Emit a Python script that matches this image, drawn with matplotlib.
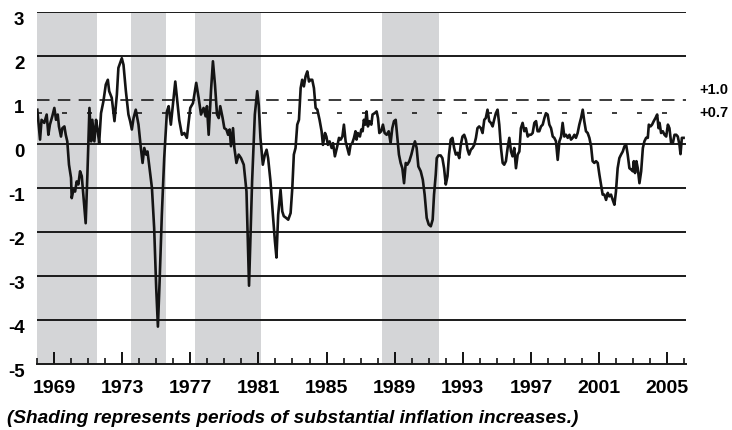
import matplotlib
matplotlib.use("Agg")
from matplotlib import pyplot as plt
from matplotlib import transforms

# readings taken off the chart (year, percentage points)
years = [
    1968.02, 1968.18, 1968.27, 1968.43, 1968.57, 1968.67, 1968.76, 1968.90, 1969.02, 1969.12,
    1969.22, 1969.29, 1969.41, 1969.49, 1969.61, 1969.69, 1969.78, 1969.88, 1970.00, 1970.04,
    1970.14, 1970.24, 1970.33, 1970.43, 1970.53, 1970.63, 1970.75, 1970.86, 1970.96, 1971.08,
    1971.18, 1971.25, 1971.37, 1971.47, 1971.57, 1971.65, 1971.76, 1971.90, 1972.04, 1972.16,
    1972.24, 1972.39, 1972.55, 1972.69, 1972.78, 1972.88, 1972.98, 1973.08, 1973.22, 1973.37,
    1973.47, 1973.57, 1973.67, 1973.80, 1973.96, 1974.08, 1974.20, 1974.30, 1974.41, 1974.49,
    1974.61, 1974.75, 1974.88, 1975.00, 1975.10, 1975.20, 1975.33, 1975.47, 1975.63, 1975.73,
    1975.86, 1975.98, 1976.12, 1976.22, 1976.35, 1976.51, 1976.65, 1976.80, 1976.90, 1977.00,
    1977.16, 1977.35, 1977.49, 1977.63, 1977.78, 1977.90, 1977.98, 1978.08, 1978.22, 1978.33,
    1978.45, 1978.57, 1978.67, 1978.76, 1978.90, 1979.00, 1979.12, 1979.22, 1979.31, 1979.39,
    1979.51, 1979.59, 1979.71, 1979.84, 1979.98, 1980.14, 1980.30, 1980.45, 1980.63, 1980.79,
    1980.93, 1981.02, 1981.12, 1981.26, 1981.38, 1981.48, 1981.57, 1981.71, 1981.85, 1981.97,
    1982.06, 1982.16, 1982.30, 1982.40, 1982.49, 1982.63, 1982.75, 1982.89, 1982.99, 1983.08,
    1983.18, 1983.28, 1983.38, 1983.48, 1983.57, 1983.67, 1983.77, 1983.87, 1983.97, 1984.06,
    1984.16, 1984.26, 1984.36, 1984.46, 1984.59, 1984.71, 1984.79, 1984.91, 1984.99, 1985.08,
    1985.18, 1985.30, 1985.38, 1985.49, 1985.63, 1985.73, 1985.83, 1985.93, 1986.02, 1986.12,
    1986.22, 1986.32, 1986.41, 1986.51, 1986.61, 1986.70, 1986.76, 1986.84, 1986.96, 1987.04,
    1987.12, 1987.19, 1987.27, 1987.35, 1987.43, 1987.51, 1987.63, 1987.70, 1987.82, 1987.94,
    1988.02, 1988.10, 1988.21, 1988.31, 1988.41, 1988.53, 1988.65, 1988.76, 1988.86, 1988.96,
    1989.06, 1989.16, 1989.25, 1989.35, 1989.45, 1989.55, 1989.65, 1989.74, 1989.86, 1989.98,
    1990.10, 1990.19, 1990.29, 1990.39, 1990.53, 1990.65, 1990.76, 1990.88, 1991.00, 1991.12,
    1991.23, 1991.31, 1991.41, 1991.47, 1991.57, 1991.70, 1991.80, 1991.90, 1992.00, 1992.10,
    1992.19, 1992.29, 1992.39, 1992.49, 1992.59, 1992.69, 1992.79, 1992.88, 1992.98, 1993.08,
    1993.18, 1993.28, 1993.37, 1993.47, 1993.57, 1993.67, 1993.77, 1993.86, 1993.96, 1994.06,
    1994.16, 1994.26, 1994.35, 1994.45, 1994.55, 1994.65, 1994.75, 1994.84, 1994.94, 1995.04,
    1995.14, 1995.24, 1995.34, 1995.43, 1995.53, 1995.63, 1995.73, 1995.83, 1995.92, 1996.02,
    1996.12, 1996.22, 1996.32, 1996.41, 1996.51, 1996.61, 1996.71, 1996.81, 1996.90, 1997.00,
    1997.10, 1997.20, 1997.30, 1997.39, 1997.49, 1997.59, 1997.69, 1997.79, 1997.88, 1997.98,
    1998.08, 1998.18, 1998.28, 1998.37, 1998.47, 1998.57, 1998.67, 1998.77, 1998.86, 1998.96,
    1999.06, 1999.16, 1999.26, 1999.35, 1999.45, 1999.55, 1999.64, 1999.74, 1999.84, 1999.94,
    2000.04, 2000.13, 2000.23, 2000.33, 2000.43, 2000.53, 2000.62, 2000.72, 2000.82, 2000.92,
    2001.02, 2001.11, 2001.21, 2001.31, 2001.41, 2001.51, 2001.60, 2001.70, 2001.80, 2001.90,
    2001.99, 2002.09, 2002.19, 2002.29, 2002.39, 2002.49, 2002.59, 2002.68, 2002.78, 2002.88,
    2002.98, 2003.04, 2003.11, 2003.19, 2003.27, 2003.37, 2003.47, 2003.57, 2003.66, 2003.76,
    2003.86, 2003.92, 2004.02, 2004.11, 2004.21, 2004.31, 2004.41, 2004.49, 2004.55, 2004.64,
    2004.74, 2004.84, 2004.94, 2005.04, 2005.13, 2005.23, 2005.33, 2005.43, 2005.53, 2005.62,
    2005.72, 2005.78, 2005.86, 2005.96,
]
values = [
    0.78, 0.10, 0.55, 0.48, 0.67, 0.21, 0.44, 0.63, 0.82, 0.55,
    0.67, 0.40, 0.17, 0.36, 0.40, 0.21, 0.06, -0.47, -0.77, -1.23,
    -1.04, -1.08, -0.85, -0.92, -0.62, -0.73, -1.30, -1.80, -0.70, 0.82,
    0.06, 0.55, 0.06, 0.55, 0.29, 0.02, 0.70, 0.97, 1.35, 1.46,
    1.20, 1.05, 0.52, 1.12, 1.73, 1.84, 1.95, 1.80, 1.20, 0.67,
    0.52, 0.33, 0.59, 0.78, 0.44, -0.02, -0.43, -0.09, -0.24, -0.17,
    -0.55, -1.00, -1.91, -3.27, -4.15, -3.12, -1.61, -0.32, 0.74, 0.86,
    0.44, 0.89, 1.42, 1.05, 0.55, 0.21, 0.25, 0.14, 0.48, 0.82,
    0.93, 1.39, 1.05, 0.67, 0.82, 0.63, 0.86, 0.21, 1.23, 1.88,
    1.35, 0.67, 0.59, 0.86, 0.59, 0.36, 0.33, 0.21, 0.33, -0.05,
    0.36, -0.09, -0.43, -0.24, -0.32, -0.47, -1.08, -3.22, -0.85, 0.67,
    1.20, 0.89, 0.14, -0.47, -0.24, -0.13, -0.32, -0.85, -1.61, -2.21,
    -2.58, -1.61, -1.04, -1.53, -1.64, -1.68, -1.72, -1.57, -1.00, -0.24,
    -0.09, 0.44, 0.55, 1.27, 1.46, 1.31, 1.54, 1.65, 1.42, 1.46,
    1.46, 1.27, 0.82, 0.78, 0.55, 0.29, -0.02, 0.25, 0.17, -0.02,
    0.06, -0.09, 0.02, -0.28, -0.05, 0.14, 0.10, 0.17, 0.44, 0.06,
    -0.09, -0.24, -0.02, 0.02, 0.14, 0.29, 0.10, 0.25, 0.17, 0.33,
    0.29, 0.55, 0.44, 0.74, 0.40, 0.52, 0.44, 0.67, 0.70, 0.74,
    0.59, 0.25, 0.29, 0.44, 0.25, 0.21, 0.29, 0.02, 0.36, 0.52,
    0.55, 0.14, -0.24, -0.43, -0.55, -0.89, -0.43, -0.47, -0.39, -0.24,
    -0.05, 0.06, -0.09, -0.51, -0.62, -0.81, -1.15, -1.68, -1.83, -1.87,
    -1.72, -1.15, -0.70, -0.32, -0.26, -0.26, -0.32, -0.55, -0.92, -0.73,
    -0.24, 0.10, 0.14, -0.09, -0.24, -0.20, -0.32, -0.02, 0.17, 0.21,
    0.10, -0.13, -0.24, -0.13, -0.09, -0.02, 0.14, 0.36, 0.40, 0.36,
    0.25, 0.55, 0.59, 0.78, 0.52, 0.48, 0.40, 0.55, 0.70, 0.78,
    0.44, -0.09, -0.43, -0.47, -0.39, -0.09, 0.14, -0.17, -0.28, -0.09,
    -0.55, -0.24, -0.17, 0.36, 0.48, 0.29, 0.36, 0.17, 0.21, 0.21,
    0.25, 0.48, 0.52, 0.29, 0.29, 0.40, 0.44, 0.59, 0.70, 0.67,
    0.44, 0.36, 0.17, 0.14, 0.06, -0.36, 0.06, 0.17, 0.48, 0.17,
    0.21, 0.14, 0.21, 0.10, 0.14, 0.21, 0.14, 0.25, 0.44, 0.59,
    0.78, 0.52, 0.29, 0.25, 0.14, -0.05, -0.39, -0.43, -0.39, -0.43,
    -0.70, -0.92, -1.15, -1.15, -1.27, -1.11, -1.19, -1.15, -1.27, -1.38,
    -1.08, -0.55, -0.32, -0.24, -0.17, -0.05, -0.02, -0.24, -0.55, -0.58,
    -0.62, -0.39, -0.66, -0.39, -0.55, -0.89, -0.62, -0.09, 0.06, 0.14,
    0.14, 0.44, 0.40, 0.44, 0.52, 0.59, 0.67, 0.36, 0.48, 0.25,
    0.29, 0.21, 0.17, 0.44, 0.36, 0.02, 0.02, 0.21, 0.21, 0.17,
    -0.02, -0.23, 0.14, 0.14,
]

# periods of substantial inflation increases
shade_start = [1968.0, 1973.53, 1977.3, 1988.24]
shade_end = [1971.55, 1975.57, 1981.16, 1991.63]

grid_levels = [3, 2, 0, -1, -2, -3, -4]
y_ticks = [3, 2, 1, 0, -1, -2, -3, -4, -5]
major_years = list(range(1969, 2006, 4))
minor_years = list(range(1968, 2007))

plt.rcParams['font.family'] = ['Liberation Sans', 'DejaVu Sans']

fig = plt.figure(figsize=(7.32, 4.31), dpi=100)
ax = fig.add_axes([0.0505, 0.1531, 0.8866, 0.8167])

for s, e in zip(shade_start, shade_end):
    ax.axvspan(s, e, color='#d4d5d7', lw=0, zorder=0)

for g in grid_levels:
    ax.axhline(g, color='#1a1a1a', lw=1.4, zorder=1)

ax.axhline(1.0, color='#1a1a1a', lw=1.2, dashes=(7.5, 5), zorder=1)
ax.axhline(0.7, color='#1a1a1a', lw=1.2, dashes=(3, 12), zorder=1)

ax.plot(years, values, color='#141414', lw=1.9, zorder=3)

ax.set_xlim(1968, 2006.1)
ax.set_ylim(-5, 3)

for side in ['top', 'left', 'right']:
    ax.spines[side].set_visible(False)
ax.spines['bottom'].set_linewidth(1.4)
ax.spines['bottom'].set_color('#1a1a1a')

ax.set_xticks(major_years)
ax.set_xticks(minor_years, minor=True)
ax.set_xticklabels([str(y) for y in major_years], fontsize=14, fontweight='bold')
ax.tick_params(axis='x', which='major', direction='in', length=9, width=1.3, pad=11)
ax.tick_params(axis='x', which='minor', direction='in', length=4.5, width=1.1)

ax.set_yticks(y_ticks)
ax.set_yticklabels([str(v) for v in y_ticks], fontsize=13.5, fontweight='bold')
ax.tick_params(axis='y', length=0, pad=9)
shift = transforms.ScaledTranslation(0, -0.055, fig.dpi_scale_trans)
for lab in ax.get_yticklabels():
    lab.set_transform(lab.get_transform() + shift)

ax.text(1.02, 1.08, '+1.0', transform=ax.get_yaxis_transform(), fontsize=10.5,
        fontweight='bold', va='bottom', ha='left')
ax.text(1.02, 0.72, '+0.7', transform=ax.get_yaxis_transform(), fontsize=10.5,
        fontweight='bold', va='center', ha='left')

fig.text(0.009, 0.03, '(Shading represents periods of substantial inflation increases.)',
         fontsize=13.7, fontweight='bold', fontstyle='italic', va='center', ha='left')

fig.savefig('out.png', dpi=100)
